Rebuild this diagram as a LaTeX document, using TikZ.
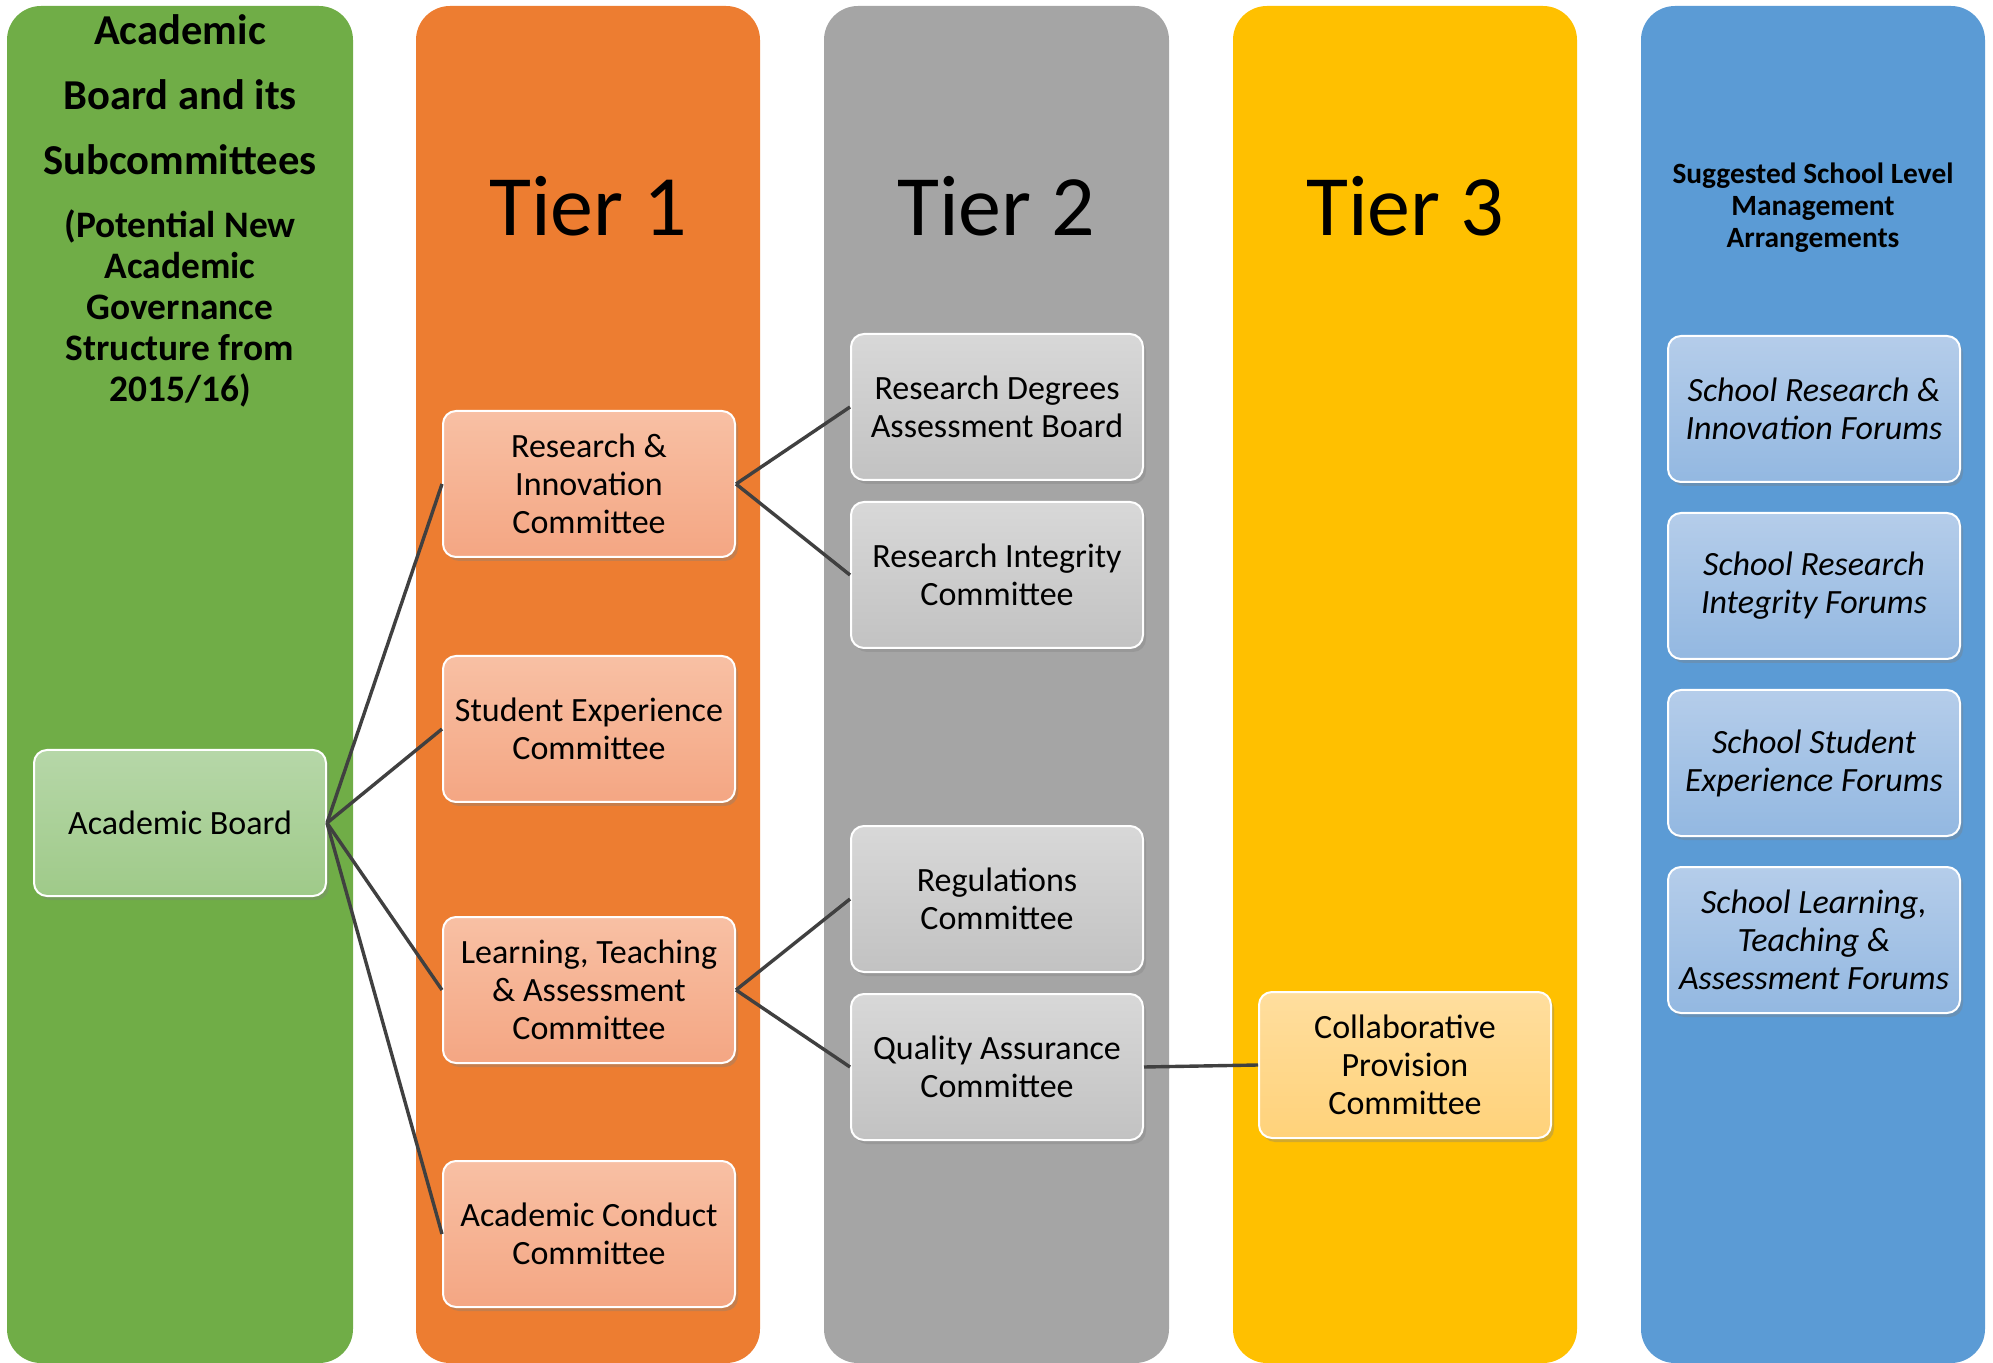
\documentclass[tikz,border=0pt]{standalone}
\usepackage{fontspec}
\setmainfont{Carlito}
\usetikzlibrary{positioning,shadows}

\definecolor{greenband}{HTML}{70AD47}
\definecolor{orangeband}{HTML}{ED7D31}
\definecolor{greyband}{HTML}{A5A5A5}
\definecolor{yellowband}{HTML}{FFC000}
\definecolor{blueband}{HTML}{5B9BD5}
\definecolor{greentop}{HTML}{B6D7A8}
\definecolor{greenbot}{HTML}{9FCA89}
\definecolor{orangetop}{HTML}{F8C0A4}
\definecolor{orangebot}{HTML}{F4A683}
\definecolor{greytop}{HTML}{D8D8D8}
\definecolor{greybot}{HTML}{C2C2C2}
\definecolor{yellowtop}{HTML}{FFDE9E}
\definecolor{yellowbot}{HTML}{FFD27A}
\definecolor{bluetop}{HTML}{B5CDEA}
\definecolor{bluebot}{HTML}{93B8E1}
\definecolor{linkgrey}{HTML}{404040}

\tikzset{
  band/.style={rounded corners=17pt},
  box/.style={rectangle,rounded corners=6.5pt,draw=white,line width=1pt,
    minimum width=146pt,minimum height=73pt,align=center,
    font=\fontsize{17}{19}\selectfont,
    drop shadow={opacity=0.35,shadow xshift=1.5pt,shadow yshift=-2pt}},
  greenbox/.style={box,top color=greentop,bottom color=greenbot},
  orangebox/.style={box,top color=orangetop,bottom color=orangebot},
  greybox/.style={box,top color=greytop,bottom color=greybot},
  yellowbox/.style={box,top color=yellowtop,bottom color=yellowbot},
  bluebox/.style={box,top color=bluetop,bottom color=bluebot,font=\fontsize{17}{19}\selectfont\itshape},
  tier/.style={font=\fontsize{43}{50}\selectfont},
  link/.style={draw=linkgrey,line width=1.7pt},
}

\begin{document}
\begin{tikzpicture}[x=0.5pt,y=-0.5pt]
    \useasboundingbox (0,0) rectangle (1993,1363);
    % the five bands
    \fill[band,greenband] (7,6) rectangle (353,1363);
    \fill[band,orangeband] (416,6) rectangle (760,1363);
    \fill[band,greyband] (824,6) rectangle (1169,1363);
    \fill[band,yellowband] (1233,6) rectangle (1577,1363);
    \fill[band,blueband] (1641,6) rectangle (1985,1363);

    % headings
    \node[align=center,font=\fontsize{21.3}{32.5}\selectfont\bfseries] (title) at (180,95) {Academic\\Board and its\\Subcommittees};
    \node[align=center,font=\fontsize{18.7}{20.5}\selectfont\bfseries] (subtitle) at (180,308) {(Potential New\\Academic\\Governance\\Structure from\\2015/16)};
    \node[tier] (tier1) at (588,206) {Tier 1};
    \node[tier] (tier2) at (996,206) {Tier 2};
    \node[tier] (tier3) at (1405,206) {Tier 3};
    \node[align=center,font=\fontsize{14.7}{16}\selectfont\bfseries] (school) at (1813,208) {Suggested School Level\\Management\\Arrangements};

    % committees
    \node[greenbox] (acboard) at (180,823) {Academic Board};
    \node[orangebox] (ric) at (589,484) {Research \&\\Innovation\\Committee};
    \node[orangebox] (sec) at (589,729) {Student Experience\\Committee};
    \node[orangebox] (lta) at (589,990) {Learning, Teaching\\\& Assessment\\Committee};
    \node[orangebox] (acc) at (589,1234) {Academic Conduct\\Committee};
    \node[greybox] (rdab) at (997,407) {Research Degrees\\Assessment Board};
    \node[greybox,below=10pt of rdab] (rint) {Research Integrity\\Committee};
    \node[greybox] (regs) at (997,899) {Regulations\\Committee};
    \node[greybox,below=10pt of regs] (qac) {Quality Assurance\\Committee};
    \node[yellowbox] (cpc) at (1405,1065) {Collaborative\\Provision\\Committee};
    \node[bluebox] (sri) at (1814,409) {School Research \&\\Innovation Forums};
    \node[bluebox,below=14.5pt of sri] (srint) {School Research\\Integrity Forums};
    \node[bluebox,below=14.5pt of srint] (sse) {School Student\\Experience Forums};
    \node[bluebox,below=14.5pt of sse] (slta) {School Learning,\\Teaching \&\\Assessment Forums};

    \draw[link] (acboard.east) -- (ric.west);
    \draw[link] (acboard.east) -- (sec.west);
    \draw[link] (acboard.east) -- (lta.west);
    \draw[link] (acboard.east) -- (acc.west);
    \draw[link] (ric.east) -- (rdab.west);
    \draw[link] (ric.east) -- (rint.west);
    \draw[link] (lta.east) -- (regs.west);
    \draw[link] (lta.east) -- (qac.west);
    \draw[link] (qac.east) -- (cpc.west);
\end{tikzpicture}
\end{document}
